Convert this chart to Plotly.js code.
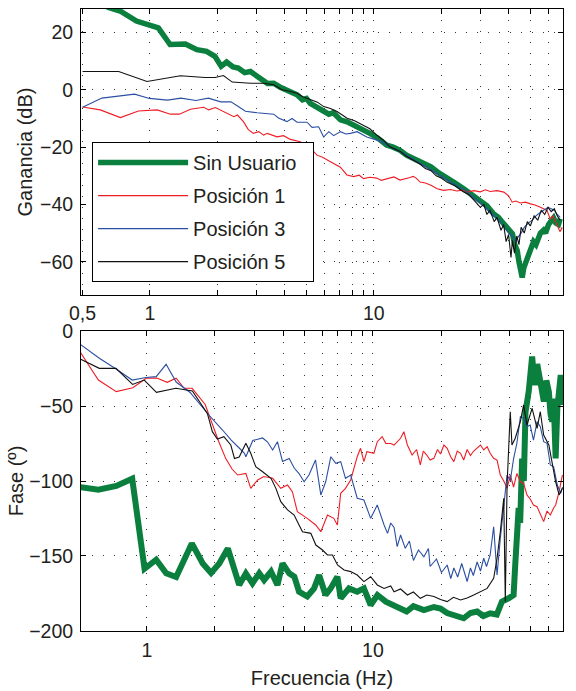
<!DOCTYPE html>
<html>
<head>
<meta charset="utf-8">
<script src="https://cdn.plot.ly/plotly-3.0.1.min.js"></script>
<style>html,body{margin:0;padding:0;background:#fff;}</style>
</head>
<body>
<div id="chart" style="width:576px;height:691px;"></div>
<script>
// ---------- DATA ----------
var seriesNames = ["Sin Usuario", "Posición 1", "Posición 3", "Posición 5"];
var seriesColors = ["#0b7f3e", "#ee1d25", "#2b4fa3", "#111111"];

// Ganancia (dB) vs frecuencia (Hz)
var gainFreqSinUsuario = [0.5,0.6,0.653,0.736,0.87,0.985,1.09,1.23,1.44,1.62,1.79,1.95,2.08,2.2,2.35,2.48,2.65,2.81,3.0,3.17,3.35,3.57,3.8,4.02,4.25,4.54,4.8,5.0,5.2,5.6,5.97,6.3,6.6,7.1,7.6,8.0,8.4,9.0,9.6,10.4,11.4,12.2,13.1,14,15,16.5,18,19.5,21.2,23,25.2,27.5,29.9,32,34.2,36,38,40,41.6,42.6,43.7,44.5,45.2,46,46.8,47.5,48.4,50,51.7,53,54.5,55.5,57.3,58.5,60.3,62,63.5,65,66.8,68];
var gainSinUsuario = [33,30.5,28.7,27.5,24.0,22.6,21.6,15.8,16.0,14.0,13.4,11.7,8.2,9.7,8.0,7.6,6.0,6.4,4.5,3.5,2.2,2.3,1.0,0,-0.8,-1.75,-3.5,-3.0,-4.7,-6.0,-7.1,-8.5,-8.0,-10.5,-11.2,-12.0,-12.9,-14.0,-15.2,-16.8,-19.3,-20.0,-21.1,-22.8,-23.9,-25.5,-26.9,-29,-31,-32.5,-34.5,-36.5,-38.6,-40.5,-43.2,-44.5,-46.7,-48.5,-50.2,-54,-56.1,-60,-62,-65.5,-62,-60.5,-59.6,-56,-53,-54,-51.5,-50,-49,-50,-47,-46,-44.7,-46.5,-47,-45];

var gainFreqPos1 = [0.5,0.6,0.738,0.888,1.077,1.234,1.354,1.516,1.738,1.83,1.96,2.21,2.37,2.46,2.62,2.75,2.9,3.06,3.22,3.34,3.7,3.95,4.24,4.69,5.1,5.57,5.9,6.4,7.09,7.58,8.13,8.6,9.0,9.6,10.3,10.8,11.4,12.3,13.1,14.0,14.5,15.0,15.5,16.1,17,18,19.2,20.5,22,23.5,25,26,28,29.9,31.5,33.1,35.5,38.1,40,41.5,43,45.2,47.5,50.1,52.5,55.5,57.5,59.4,61.3,63,65.6,67.8,69.5];
var gainPos1 = [-6.0,-7.0,-9.7,-7.4,-7.0,-8.5,-8.5,-6.8,-6.1,-7.0,-6.2,-8.2,-9.4,-8.8,-11.2,-13.9,-15.2,-14.6,-15.8,-15.2,-16.4,-16.0,-17.3,-18.1,-19.5,-22.8,-23.5,-25.1,-27,-29.7,-30.3,-29.8,-31.0,-30.5,-30.8,-31.6,-31.2,-30.4,-31.5,-31,-30.6,-30.2,-30.9,-32.2,-32.5,-33.3,-34.5,-35.1,-34.8,-35.3,-35.0,-35.7,-35.2,-35.6,-34.9,-35.5,-35.2,-35.7,-37,-39.2,-38.8,-39.5,-39.2,-39.8,-40.2,-41,-41.5,-42.1,-45,-44,-46.8,-49.5,-48];

var gainFreqPos3 = [0.5,0.61,0.853,0.995,1.197,1.375,1.605,1.824,2.07,2.3,2.48,2.67,3.01,3.34,3.57,3.75,4.09,4.31,4.54,5.03,5.3,5.67,5.97,6.29,6.62,7.09,7.5,7.86,8.42,9.3,10.7,11.8,13.1,15,17,19,21.2,23.5,25.5,28,29.9,32,34,36,38,40,41.5,43,44,45.5,47,49,51,53,55,57.5,60,62,64,66,68];
var gainPos3 = [-6.1,-2.9,-1.5,-3.0,-3.6,-2.9,-3.7,-2.9,-4.2,-4.2,-5.8,-7.5,-8.0,-8.4,-8.5,-9.8,-11.1,-10.0,-11.3,-11.3,-13.1,-12.9,-16.5,-14.6,-16.0,-14.6,-15.4,-15.2,-14.6,-16.5,-17.9,-19.9,-21.5,-24.2,-26.8,-29.3,-31.5,-33.5,-35,-37.5,-39.5,-41.5,-43.5,-45,-47.5,-50,-51,-53,-51.5,-50,-48,-46.5,-45.5,-44,-43,-42,-41,-41.5,-42,-43.5,-44.5];

var gainFreqPos5 = [0.5,0.725,0.97,1.368,1.763,1.954,2.13,2.33,2.81,3.22,3.57,3.89,4.2,4.54,4.85,5.2,5.6,5.97,6.4,6.85,7.6,8.2,9.0,9.6,10.3,11,11.8,13.1,14,15,16,17,18,19,20,21.2,23,25,26.5,28,29.9,31,32,33,34.5,35.5,37,38,39,40,41,41.6,42.5,43.5,44.5,45.5,47,48.5,50,52,54,56,58,60,62,64,66,68];
var gainPos5 = [6.4,6.4,2.9,4.9,4.3,4.3,5.0,2.7,2.3,2.3,1.75,0,-0.5,-1.2,-2.5,-3.5,-4.3,-5.85,-6.5,-7.6,-9.9,-10.8,-12.3,-13.6,-15.8,-17.5,-19.9,-21.5,-23.2,-24.6,-25.8,-27.5,-28.2,-30,-30.8,-32.2,-33.5,-35.5,-36.5,-38.5,-41,-40,-43.5,-42,-46,-44.5,-49,-47,-53,-50.5,-58.5,-52.6,-57,-51,-54,-48,-50,-46,-47.5,-44,-45.5,-42,-43.5,-41,-42.5,-41.5,-44,-45.5];

// Fase (º) vs frecuencia (Hz)
var phaseFreqSinUsuario = [0.5,0.61,0.732,0.861,0.976,1.099,1.217,1.347,1.58,1.766,1.923,2.09,2.28,2.56,2.74,2.93,3.14,3.3,3.54,3.78,3.98,4.26,4.49,4.71,5.12,5.49,5.78,6.17,6.5,6.96,7.2,7.83,8.52,9.12,9.77,10.47,11.4,12.4,13.3,14.1,15.1,16.8,18.6,19.9,21.3,22.8,25.2,27,28.9,30.8,33,35.3,37.2,39.8,41.9,42.6,43.4,44.1,44.8,45.7,46.5,47.3,48.9,49.8,50.6,51.5,52.4,53.3,54.2,55.5,57,58.5,60,61,62.1,63,64.3,65.4,66.5,67.7,68.9,69.5];
var phaseSinUsuario = [-104,-105.8,-103.3,-98.5,-158.5,-152.5,-161.5,-164,-141.6,-155,-161.3,-155,-145,-169.3,-161.6,-168.2,-161.5,-166,-160.4,-169.3,-154.9,-161.6,-163.8,-173.8,-177,-171.6,-162.7,-176,-171.6,-163.8,-178.2,-171.6,-173.8,-171.6,-182.7,-176,-180.4,-182.7,-185,-187,-183.5,-186,-184,-185,-188,-189.3,-191.5,-188,-187,-190,-188.2,-189,-180.4,-178.2,-176,-156,-134,-118,-128,-85,-100,-54,-40,-25,-17,-30,-36,-22,-29.3,-42,-47,-33,-40.4,-55,-60.4,-45,-84.9,-51.5,-40,-29.3,-49.3,-35];

var phaseFreqPos1 = [0.5,0.61,0.732,0.866,0.993,1.107,1.229,1.347,1.461,1.585,1.81,1.948,2.08,2.23,2.38,2.52,2.74,2.88,3.09,3.29,3.6,3.91,4.19,4.4,4.63,5.12,5.58,5.88,6.29,6.71,6.96,7.2,7.56,7.97,8.52,8.81,9.12,9.4,10.1,10.45,10.98,11.4,11.98,12.4,13.25,13.7,14.2,14.9,15.6,16.2,16.7,17.3,17.9,18.6,19.3,19.9,20.6,21.3,22.1,22.8,23.6,24.4,25.2,26.1,27,27.9,28.9,29.9,30.9,32,33,34.2,35.4,36.6,37.9,39.2,40.5,41.9,43.3,44.9,46.4,48,49.6,51.3,53.2,55,56.9,58.9,60.9,63,64.3,66.6,68.9];
var phasePos1 = [-12.7,-32.7,-40.4,-37.8,-31.5,-31.3,-34.2,-31.5,-38.2,-38.2,-49,-62.7,-73.8,-84.9,-92,-96,-94.9,-104.9,-99.3,-97,-98.2,-104.9,-102.7,-107.1,-120.5,-124.9,-129.3,-133.8,-122.7,-124.9,-129.3,-108.2,-104.9,-99.3,-83.8,-78.2,-87.1,-80.4,-81.5,-73.8,-70.4,-74.9,-75,-76,-71.5,-67.1,-76,-82.7,-79,-89.3,-80,-82.7,-86,-84.9,-79,-82,-76,-78.2,-84,-87.1,-80,-81.5,-86,-79,-83,-80,-78,-76,-79.3,-77.1,-81.5,-84.9,-86,-96,-100,-104.9,-96,-104,-95,-100.5,-101.6,-109.3,-112,-116,-117.1,-122.7,-127.1,-120,-122.7,-118,-116,-107.1,-96];

var phaseFreqPos3 = [0.5,0.616,0.725,0.861,0.99,1.099,1.216,1.347,1.553,1.855,2.16,2.36,2.56,2.7,2.74,2.94,3.25,3.42,3.6,3.78,3.98,4.26,4.49,4.71,4.96,5.21,5.57,5.88,6.18,6.51,6.85,7.2,7.56,7.97,8.52,9.12,9.77,10.45,11.2,11.6,11.98,12.4,12.8,13.25,13.9,14.5,15.1,15.9,16.8,17.6,17.9,19.1,20.1,21.3,22.1,22.8,23.7,24.7,26.1,27,27.8,28.9,29.9,30.9,31.8,33,34.2,35.4,36.6,37.9,39.2,40.5,41.9,43.3,44.9,46.4,48,49.6,51.3,53.2,55,56.9,58.9,60.9,63,65.4,67.7,69];
var phasePos3 = [-8.2,-18.2,-25,-32.7,-31,-30.4,-22.2,-34,-41,-55,-66,-72.7,-78,-81.5,-83.8,-73,-71.3,-74,-79.3,-73.8,-87,-85,-91.5,-95,-100.5,-96,-86,-109.3,-100.5,-83.8,-88.2,-87.1,-98.2,-96,-111.5,-112.7,-124.9,-116,-129.3,-134.9,-128,-131,-143.8,-136,-144.9,-140,-153,-146,-150.5,-145,-157,-152,-161,-156,-165,-158,-164,-155,-167,-158,-163,-154,-160,-151.5,-157,-149.3,-130.5,-162.7,-138.2,-116,-96,-100,-85,-75,-57.1,-58.2,-63.8,-62.7,-72.7,-60.4,-63.8,-73.8,-74.9,-89.3,-90.5,-102.7,-108.2,-104];

var phaseFreqPos5 = [0.5,0.616,0.73,0.864,0.973,1.102,1.343,1.589,1.851,1.948,2.05,2.19,2.35,2.44,2.56,2.74,2.88,3.03,3.25,3.54,3.72,3.91,4.19,4.48,4.71,4.88,5.31,5.59,5.98,6.29,6.62,6.97,7.45,7.97,8.52,9.12,9.77,10.45,11.2,11.98,12.4,13.25,14.2,15.1,16.2,17.3,18.6,19.9,21.3,22.7,24.4,26.1,27.9,29.9,32,34.2,35.4,36.6,37.9,38.5,39.2,40.5,41.2,42.6,44.9,46.4,48,50.6,53.2,55,56.9,60,62.2,64.3,66.6,68.9];
var phasePos5 = [-18.2,-24.9,-24.9,-35.6,-32.7,-40.9,-38.2,-40,-54.9,-67.1,-72,-70.4,-76,-85,-84,-74.9,-81.5,-90.5,-93.8,-98.2,-104.9,-113.8,-119.3,-122.7,-129.3,-133.8,-134.9,-142.7,-146,-149.3,-149.3,-156,-159.3,-160.4,-162.7,-167.1,-163.8,-169.3,-171.6,-170,-173.8,-172,-176,-174,-178.2,-176,-177,-179,-180.4,-177.5,-179.3,-178,-176,-173.8,-171.6,-164.9,-151.5,-133.8,-111.5,-180.4,-102.7,-53.8,-76,-71.5,-60.4,-49.3,-62.7,-51.5,-64.9,-53.8,-69.3,-76,-89.3,-100.5,-109.3,-104.9];

// Tick labels
var gainTicks = [-60, -40, -20, 0, 20];
var phaseTicks = [-200, -150, -100, -50, 0];
var freqGrid = [0.5,1,2,3,4,5,6,7,8,9,10,20,30,40,50,60,70];
var freqLabelsTop = {"0.5":"0,5","1":"1","10":"10"};
var freqLabelsBottom = {"1":"1","10":"10","70":"70"};

// ---------- CHART ----------
var FONT = "Liberation Sans, Arial, Helvetica, sans-serif";
var TXT = "#231f20";
var gainX = [gainFreqSinUsuario, gainFreqPos1, gainFreqPos3, gainFreqPos5];
var gainY = [gainSinUsuario, gainPos1, gainPos3, gainPos5];
var phaseX = [phaseFreqSinUsuario, phaseFreqPos1, phaseFreqPos3, phaseFreqPos5];
var phaseY = [phaseSinUsuario, phasePos1, phasePos3, phasePos5];
var widths = [5.5, 1.1, 1.1, 1.1];
var pad = "\u00a0\u00a0";

var traces = [];
for (var i = 0; i < 4; i++) {
  traces.push({x: gainX[i], y: gainY[i], type: "scatter", mode: "lines", name: seriesNames[i] + (i === 0 ? pad : ""),
    legendgroup: "g" + i, line: {color: seriesColors[i], width: widths[i]}, xaxis: "x", yaxis: "y"});
}
for (var j = 0; j < 4; j++) {
  traces.push({x: phaseX[j], y: phaseY[j], type: "scatter", mode: "lines", name: seriesNames[j],
    legendgroup: "g" + j, showlegend: false, line: {color: seriesColors[j], width: widths[j] + (j === 0 ? 0.5 : 0)},
    xaxis: "x2", yaxis: "y2"});
}

function labels(map) { return freqGrid.map(function (v) { return map[String(v)] || ""; }); }

var common = {
  showline: true, linecolor: "#000", linewidth: 1, mirror: "ticks",
  ticks: "inside", ticklen: 5, tickwidth: 1, tickcolor: "#000",
  showgrid: true, gridcolor: "#333", gridwidth: 1, griddash: "1px,10px",
  zeroline: false, tickfont: {family: FONT, size: 19.5, color: TXT}
};
function ax(extra) { var o = {}; for (var k in common) o[k] = common[k]; for (var k2 in extra) o[k2] = extra[k2]; return o; }

var layout = {
  width: 576, height: 691,
  margin: {l: 81, r: 13, t: 9, b: 60},
  paper_bgcolor: "#fff", plot_bgcolor: "#fff",
  font: {family: FONT, size: 19.5, color: TXT},
  showlegend: true,
  legend: {x: 0.023, y: 0.786, xanchor: "left", yanchor: "top", bgcolor: "#fff",
    bordercolor: "#000", borderwidth: 1, font: {family: FONT, size: 20, color: TXT},
    traceorder: "grouped", tracegroupgap: 4, itemwidth: 90},
  xaxis: ax({type: "log", range: [Math.log10(0.492), Math.log10(70)], domain: [0, 1], anchor: "y",
    tickmode: "array", tickvals: freqGrid, ticktext: labels(freqLabelsTop), ticklabelstandoff: 1}),
  yaxis: ax({range: [-71.6, 28.2], domain: [0.5402, 1], anchor: "x", tickmode: "array", tickvals: gainTicks,
    ticklabelstandoff: 3,
    title: {text: "Ganancia (dB)", standoff: 2, font: {family: FONT, size: 20, color: TXT}}}),
  xaxis2: ax({type: "log", range: [Math.log10(0.511), Math.log10(69.3)], domain: [0, 1], anchor: "y2",
    tickmode: "array", tickvals: freqGrid, ticktext: labels(freqLabelsBottom), ticklabelstandoff: 2,
    title: {text: "Frecuencia (Hz)", standoff: 10, font: {family: FONT, size: 20, color: TXT}}}),
  yaxis2: ax({range: [-200, 0], domain: [0, 0.4823], anchor: "x2", tickmode: "array", tickvals: phaseTicks,
    ticklabelstandoff: 3,
    title: {text: "Fase (º)", standoff: 0, font: {family: FONT, size: 20, color: TXT}}})
};

Plotly.newPlot("chart", traces, layout, {displayModeBar: false, staticPlot: true});
</script>
</body>
</html>
